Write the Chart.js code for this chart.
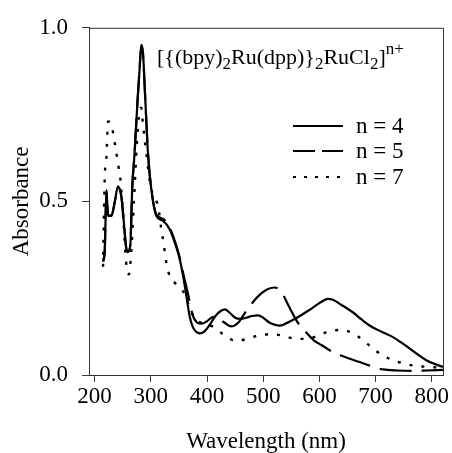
<!DOCTYPE html>
<html>
<head>
<meta charset="utf-8">
<script src="https://cdn.jsdelivr.net/npm/chart.js@4"></script>
<style>
  html, body { margin: 0; padding: 0; background: #fff; }
  #wrap { width: 452px; height: 453px; }
</style>
</head>
<body>
<div id="wrap"><canvas id="chart" width="452" height="453"></canvas></div>
<script>
// wavelengths (nm) and absorbance
var n4Wl  = [215, 218, 221, 224, 230, 236, 241.5, 247.5, 252, 256.4, 259.3, 263.5, 267, 271, 276, 280, 283, 286, 290, 295, 301, 310, 321.6, 333.5, 345, 352, 358, 363, 369, 375, 381, 387, 395, 405, 415, 425, 432, 440, 450, 460, 470, 480, 491, 500, 510, 520, 529, 540, 560, 580, 600, 615, 625, 636, 648, 660, 675, 690, 710, 731, 746, 761, 776, 791, 805, 817, 820];
var n4Abs = [0.326, 0.354, 0.533, 0.458, 0.458, 0.5, 0.543, 0.515, 0.44, 0.363, 0.354, 0.373, 0.543, 0.637, 0.78, 0.88, 0.951, 0.93, 0.8, 0.637, 0.533, 0.458, 0.444, 0.42, 0.37, 0.33, 0.28, 0.231, 0.17, 0.137, 0.124, 0.12, 0.125, 0.145, 0.17, 0.185, 0.189, 0.18, 0.165, 0.162, 0.165, 0.17, 0.172, 0.165, 0.152, 0.145, 0.142, 0.148, 0.165, 0.185, 0.207, 0.219, 0.216, 0.205, 0.193, 0.18, 0.16, 0.142, 0.125, 0.109, 0.093, 0.076, 0.058, 0.042, 0.032, 0.025, 0.024];

var n5Wl  = [215, 218, 221, 224, 230, 236, 241.5, 247.5, 252, 256.4, 259.3, 263.5, 267, 271, 276, 280, 283, 286, 290, 295, 301, 310, 321.6, 333.5, 345, 352, 358, 366, 375, 390, 400, 408, 417, 430, 443, 455, 470, 490, 505, 520, 532, 545, 562, 574, 590, 605, 624, 642, 670, 695, 713, 740, 764, 790, 820];
var n5Abs = [0.33, 0.36, 0.53, 0.46, 0.46, 0.5, 0.54, 0.515, 0.44, 0.365, 0.356, 0.375, 0.54, 0.635, 0.78, 0.88, 0.945, 0.925, 0.8, 0.64, 0.535, 0.462, 0.45, 0.425, 0.375, 0.335, 0.29, 0.235, 0.17, 0.148, 0.155, 0.165, 0.168, 0.152, 0.14, 0.15, 0.185, 0.225, 0.245, 0.252, 0.24, 0.2, 0.15, 0.127, 0.1, 0.085, 0.066, 0.054, 0.038, 0.024, 0.016, 0.013, 0.012, 0.013, 0.015];

var n7Wl  = [215, 218, 221, 224, 230, 236, 243, 246, 251, 256, 261, 265, 270, 275, 280, 283, 286, 292, 298, 304, 310, 313, 318.7, 322, 328, 334, 343, 351, 360, 370, 380, 390, 400, 410, 420, 428, 440, 449, 460, 471, 491, 515, 535, 556, 577, 597, 618, 639, 660, 681, 701, 724, 746, 767, 787, 808, 820];
var n7Abs = [0.312, 0.567, 0.628, 0.73, 0.72, 0.666, 0.595, 0.562, 0.45, 0.326, 0.29, 0.35, 0.5, 0.66, 0.76, 0.77, 0.722, 0.64, 0.56, 0.519, 0.5, 0.486, 0.42, 0.387, 0.321, 0.283, 0.265, 0.25, 0.235, 0.19, 0.16, 0.15, 0.145, 0.14, 0.128, 0.118, 0.105, 0.099, 0.1, 0.104, 0.113, 0.118, 0.113, 0.105, 0.104, 0.113, 0.126, 0.13, 0.12, 0.096, 0.069, 0.047, 0.035, 0.027, 0.024, 0.022, 0.022];

var seriesLabels = ['n = 4', 'n = 5', 'n = 7'];
var xTicks = [200, 300, 400, 500, 600, 700, 800];
var yTicks = [0, 0.5, 1.0];

var FONT = '"Liberation Serif", "Times New Roman", serif';

function pts(xs, ys) {
  return xs.map(function (x, i) { return { x: x, y: ys[i] }; });
}

// box round the plot area
var framePlugin = {
  id: 'frame',
  afterDatasetsDraw: function (chart) {
    var a = chart.chartArea, ctx = chart.ctx;
    ctx.save();
    ctx.strokeStyle = '#333';
    ctx.lineWidth = 1;
    ctx.beginPath();
    ctx.moveTo(a.left, a.top + 0.5);
    ctx.lineTo(a.right + 0.5, a.top + 0.5);
    ctx.lineTo(a.right + 0.5, a.bottom);
    ctx.stroke();
    ctx.restore();
  }
};

// formula label and in-plot legend
var notePlugin = {
  id: 'note',
  afterDraw: function (chart) {
    var ctx = chart.ctx;
    ctx.save();
    ctx.fillStyle = '#000';
    ctx.textBaseline = 'alphabetic';
    ctx.textAlign = 'left';
    var parts = [
      ['[{(bpy)', 0], ['2', 1], ['Ru(dpp)}', 0], ['2', 1], ['RuCl', 0], ['2', 1], [']', 0], ['n+', 2]
    ];
    var x = 157, base = 64;
    parts.forEach(function (p) {
      var size = p[1] === 0 ? 22 : 17;
      var dy = p[1] === 1 ? 5 : (p[1] === 2 ? -10 : 0);
      ctx.font = size + 'px ' + FONT;
      ctx.fillText(p[0], x, base + dy);
      x += ctx.measureText(p[0]).width;
    });

    var rows = [126, 151, 177];
    var dashes = [[], [22, 7], [3, 8]];
    chart.data.datasets.forEach(function (ds, i) {
      ctx.strokeStyle = '#000';
      ctx.lineWidth = 2.2;
      ctx.setLineDash(dashes[i]);
      ctx.beginPath();
      ctx.moveTo(293, rows[i]);
      ctx.lineTo(343, rows[i]);
      ctx.stroke();
      ctx.setLineDash([]);
      ctx.font = '23px ' + FONT;
      ctx.textBaseline = 'middle';
      ctx.fillText(ds.label, 356, rows[i] + 1);
    });
    ctx.restore();
  }
};

var chart = new Chart(document.getElementById('chart'), {
  type: 'line',
  data: {
    datasets: [
      { label: seriesLabels[0], data: pts(n4Wl, n4Abs), borderColor: '#000', borderWidth: 2.2, pointRadius: 0, cubicInterpolationMode: 'monotone', fill: false },
      { label: seriesLabels[1], data: pts(n5Wl, n5Abs), borderColor: '#000', borderWidth: 2.2, borderDash: [32, 10], pointRadius: 0, cubicInterpolationMode: 'monotone', fill: false },
      { label: seriesLabels[2], data: pts(n7Wl, n7Abs), borderColor: '#000', borderWidth: 2.4, borderDash: [3, 9], pointRadius: 0, cubicInterpolationMode: 'monotone', fill: false }
    ]
  },
  options: {
    responsive: false,
    animation: false,
    layout: { padding: { left: 0, right: 9, top: 22, bottom: 0 } },
    plugins: { legend: { display: false }, tooltip: { enabled: false } },
    scales: {
      x: {
        type: 'linear',
        min: 190,
        max: 820,
        afterBuildTicks: function (s) { s.ticks = xTicks.map(function (v) { return { value: v }; }); },
        afterFit: function (s) { s.height = 78; },
        ticks: { color: '#000', font: { family: FONT, size: 23 }, padding: 1, maxRotation: 0 },
        grid: { drawOnChartArea: false, tickLength: 7, color: '#333' },
        border: { color: '#333' },
        title: { display: true, text: 'Wavelength (nm)', color: '#000', font: { family: FONT, size: 23, lineHeight: 1 }, padding: { top: 0, bottom: 0 } }
      },
      y: {
        min: 0,
        max: 1,
        afterBuildTicks: function (s) { s.ticks = yTicks.map(function (v) { return { value: v }; }); },
        afterFit: function (s) { s.width = 89; },
        ticks: { color: '#000', font: { family: FONT, size: 23 }, padding: 14, callback: function (v) { return v.toFixed(1); } },
        grid: { drawOnChartArea: false, tickLength: 7, color: '#333' },
        border: { color: '#333' },
        title: { display: true, text: 'Absorbance', color: '#000', font: { family: FONT, size: 23, lineHeight: 1 }, padding: { top: 10, bottom: 0 } }
      }
    }
  },
  plugins: [framePlugin, notePlugin]
});
</script>
</body>
</html>
